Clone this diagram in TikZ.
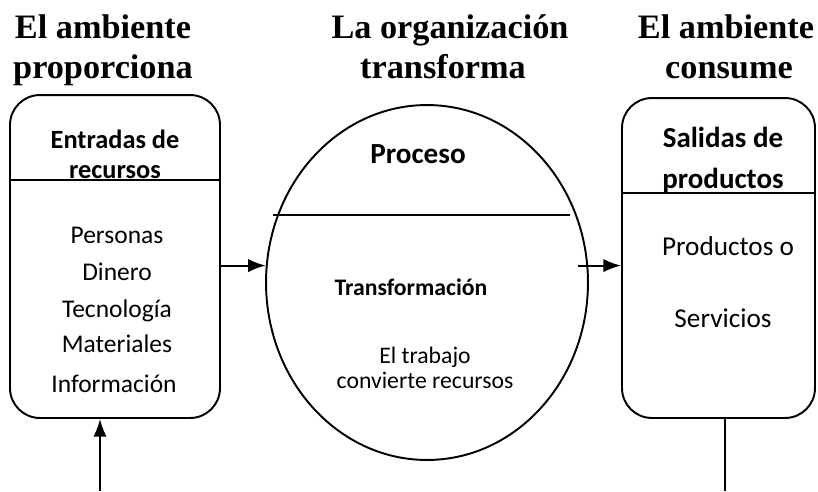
\documentclass[tikz,border=0pt]{standalone}
\usepackage{fontspec}
\setmainfont{Carlito}
\newfontfamily\titulo{Liberation Serif}
\usetikzlibrary{shapes.geometric,arrows.meta}
\begin{document}
\begin{tikzpicture}[x=0.02cm,y=-0.02cm]
	\tikzset{caja/.style={draw=black, line width=1.1pt, rounded corners=17pt},
		circ/.style={draw=black, line width=1.1pt, ellipse, inner sep=0pt, minimum width=6.44cm, minimum height=7.1cm},
		tit/.style={font=\titulo\bfseries\fontsize{19.5}{24}\selectfont, anchor=base},
		t/.style={anchor=base, inner sep=0pt},
		f/.style={-{Latex[length=10pt,width=7.5pt]}, line width=1.1pt}};
	\useasboundingbox (0,0) rectangle (818,491);

	\node[tit] (ap1) at (103,38) {El ambiente};
	\node[tit] (ap2) at (103,78) {proporciona};
	\node[tit] (ot1) at (450,38) {La organización};
	\node[tit] (ot2) at (443,78) {transforma};
	\node[tit] (ac1) at (726,38) {El ambiente};
	\node[tit] (ac2) at (729,78) {consume};

	\node[caja, minimum width=4.2cm, minimum height=6.46cm] (entradas) at (115,256.5) {};
	\node[caja, minimum width=3.86cm, minimum height=6.4cm] (salidas) at (718.5,258) {};
	\node[circ] (proceso) at (427,282.5) {};

	\draw[line width=1.1pt] (entradas.west |- 0,180) -- (entradas.east |- 0,180);
	\draw[line width=1.1pt] (salidas.west |- 0,193) -- (salidas.east |- 0,193);
	\coordinate (l1) at (273,215);
	\coordinate (l2) at (570,215);
	\draw[line width=1.1pt] (l1) -- (l2);

	\node[t, font=\bfseries\fontsize{15}{18}\selectfont] (e1) at (115,148) {Entradas de};
	\node[t, font=\bfseries\fontsize{15}{18}\selectfont] (e2) at (115,178) {recursos};
	\node[t, font=\fontsize{14.5}{17}\selectfont] (r1) at (117,243) {Personas};
	\node[t, font=\fontsize{14.5}{17}\selectfont] (r2) at (117,280) {Dinero};
	\node[t, font=\fontsize{14.5}{17}\selectfont] (r3) at (117,317) {Tecnología};
	\node[t, font=\fontsize{14.5}{17}\selectfont] (r4) at (117,352) {Materiales};
	\node[t, font=\fontsize{14.5}{17}\selectfont] (r5) at (114,392) {Información};

	\node[t, font=\bfseries\fontsize{16.6}{20}\selectfont] (p1) at (418,163) {Proceso};
	\node[t, font=\bfseries\fontsize{13.5}{16}\selectfont] (p2) at (411,295) {Transformación};
	\node[t, font=\fontsize{13.5}{16}\selectfont] (p3) at (425,363) {El trabajo};
	\node[t, font=\fontsize{13.5}{16}\selectfont] (p4) at (425,388) {convierte recursos};

	\node[t, font=\bfseries\fontsize{16.5}{20}\selectfont] (s1) at (723,147) {Salidas de};
	\node[t, font=\bfseries\fontsize{16.5}{20}\selectfont] (s2) at (723,188) {productos};
	\node[t, font=\fontsize{15.5}{19}\selectfont] (s3) at (728,255) {Productos o};
	\node[t, font=\fontsize{15.5}{19}\selectfont] (s4) at (723,327) {Servicios};

	\draw[f] (entradas.east |- proceso.174) -- (proceso.174);
	\draw[f] ([xshift=-0.2cm]proceso.6) -- (salidas.west |- proceso.6);
	\coordinate (b1) at (100,491);
	\coordinate (b2) at (725,491);
	\draw[f] (b1) -- (b1 |- entradas.south);
	\draw[line width=1.1pt] (b2 |- salidas.south) -- (b2);
\end{tikzpicture}
\end{document}
